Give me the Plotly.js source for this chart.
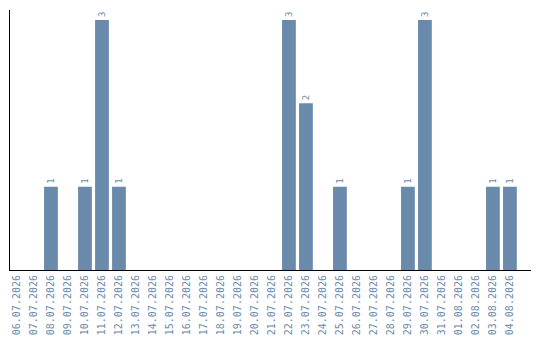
<!DOCTYPE html>
<html>
<head>
<meta charset="utf-8">
<script src="https://cdn.plot.ly/plotly-3.0.1.min.js"></script>
<style>
  html, body { margin: 0; padding: 0; background: #fff; }
  #chart { width: 540px; height: 340px; }
</style>
</head>
<body>
<div id="chart"></div>
<script>
// Daily counts, 06.07.2026 – 04.08.2026
const dates = [
  "06.07.2026", "07.07.2026", "08.07.2026", "09.07.2026", "10.07.2026",
  "11.07.2026", "12.07.2026", "13.07.2026", "14.07.2026", "15.07.2026",
  "16.07.2026", "17.07.2026", "18.07.2026", "19.07.2026", "20.07.2026",
  "21.07.2026", "22.07.2026", "23.07.2026", "24.07.2026", "25.07.2026",
  "26.07.2026", "27.07.2026", "28.07.2026", "29.07.2026", "30.07.2026",
  "31.07.2026", "01.08.2026", "02.08.2026", "03.08.2026", "04.08.2026"
];
const counts = [
  0, 0, 1, 0, 1,
  3, 1, 0, 0, 0,
  0, 0, 0, 0, 0,
  0, 3, 2, 0, 1,
  0, 0, 0, 1, 3,
  0, 0, 0, 1, 1
];

const barColor = "#6a8aab";
const monoFont = "DejaVu Sans Mono, monospace";

const trace = {
  type: "bar",
  x: dates.map((_, i) => i),
  y: counts,
  marker: { color: barColor },
  text: counts.map(v => (v > 0 ? String(v) : "")),
  textposition: "outside",
  textangle: -90,
  textfont: { family: monoFont, size: 9, color: barColor },
  cliponaxis: false,
  hoverinfo: "skip"
};

const layout = {
  width: 540,
  height: 340,
  margin: { l: 10, r: 9, t: 10, b: 70 },
  paper_bgcolor: "#fff",
  plot_bgcolor: "#fff",
  bargap: 0.19,
  showlegend: false,
  xaxis: {
    range: [-0.41, 30.24],
    tickmode: "array",
    tickvals: dates.map((_, i) => i),
    ticktext: dates,
    tickangle: -90,
    tickfont: { family: monoFont, size: 10, color: barColor },
    ticks: "",
    showgrid: false,
    zeroline: false,
    showline: true,
    linecolor: "#000",
    linewidth: 1
  },
  yaxis: {
    range: [0, 3.12],
    showticklabels: false,
    ticks: "",
    showgrid: false,
    zeroline: false,
    showline: true,
    linecolor: "#000",
    linewidth: 1
  }
};

Plotly.newPlot("chart", [trace], layout, { displayModeBar: false, staticPlot: true });
</script>
</body>
</html>
